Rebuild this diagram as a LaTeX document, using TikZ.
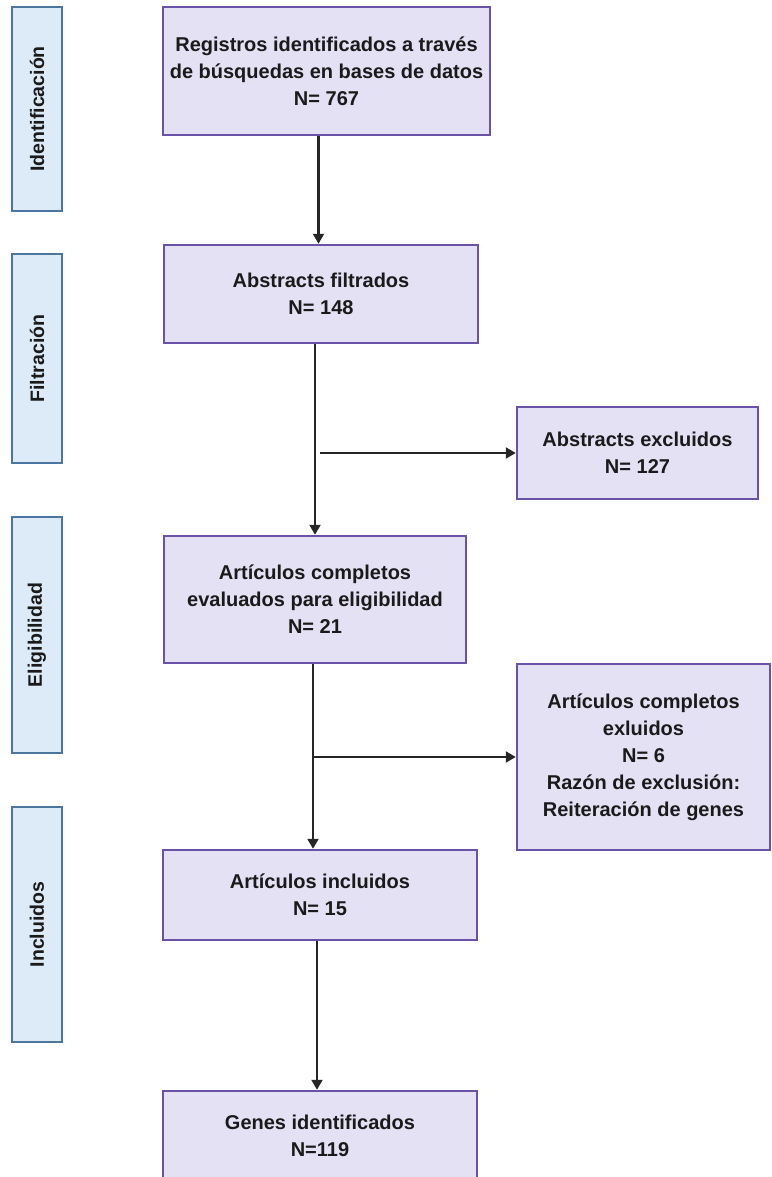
\documentclass[tikz,border=0pt]{standalone}
\usepackage{fontspec}
\setmainfont{Liberation Sans}
\usetikzlibrary{arrows.meta,calc}
\definecolor{boxfill}{HTML}{E4E1F5}
\definecolor{boxdraw}{HTML}{6A52A8}
\definecolor{sidefill}{HTML}{DDEBF8}
\definecolor{sidedraw}{HTML}{4A76A0}
\definecolor{txt}{HTML}{1A1A1A}
\definecolor{arrowcol}{HTML}{262626}
\begin{document}
\begin{tikzpicture}[x=1pt,y=-1pt,
  mainbox/.style={draw=boxdraw,fill=boxfill,line width=2.5pt,inner sep=0pt,align=center,
    text=txt,font=\bfseries\fontsize{20}{27}\selectfont},
  sidebox/.style={draw=sidedraw,fill=sidefill,line width=2.5pt,inner sep=0pt,rotate=90,
    minimum height=50pt,text=txt,font=\bfseries\fontsize{19.5}{22}\selectfont},
  arr/.style={draw=arrowcol,line width=2.2pt,-{Triangle[length=10pt,width=11pt]}}]
\useasboundingbox (0,0) rectangle (771,1177);

% side stage labels
\node[sidebox,minimum width=204pt] (s1) at (37,109) {Identificación};
\node[sidebox,minimum width=209pt] (s2) at (37,358.5) {Filtración};
\node[sidebox,minimum width=236pt] (s3) at (37,635) {Eligibilidad};
\node[sidebox,minimum width=235pt] (s4) at (37,924.5) {Incluidos};

% main boxes
\node[mainbox,minimum width=327pt,minimum height=128pt] (b1) at (326.5,71)
  {Registros identificados a través\\de búsquedas en bases de datos\\N= 767};
\node[mainbox,minimum width=314pt,minimum height=98pt] (b2) at (321,294)
  {Abstracts filtrados\\N= 148};
\node[mainbox,minimum width=241pt,minimum height=92pt] (b3) at (637.5,453)
  {Abstracts excluidos\\N= 127};
\node[mainbox,minimum width=302pt,minimum height=127pt] (b4) at (315,599.5)
  {Artículos completos\\evaluados para eligibilidad\\N= 21};
\node[mainbox,minimum width=253pt,minimum height=186pt] (b5) at (643.5,757)
  {Artículos completos\\exluidos\\N= 6\\Razón de exclusión:\\Reiteración de genes};
\node[mainbox,minimum width=314pt,minimum height=90pt] (b6) at (320,895)
  {Artículos incluidos\\N= 15};
\node[mainbox,minimum width=314pt,minimum height=90pt] (b7) at (320,1136)
  {Genes identificados\\N=119};

% connectors
\draw[arr] ([xshift=-8pt]b1.south) -- ([xshift=-8pt]b1.south |- b2.north);
\draw[arr] (b2.south -| b4.north) -- (b4.north);
\draw[arr] ([xshift=5pt]b3.west -| b4.north) -- (b3.west);
\draw[arr] ([xshift=-2pt]b4.south) -- ([xshift=-2pt]b4.south |- b6.north);
\draw[arr] ([xshift=-2pt]b5.west -| b4.south) -- (b5.west);
\draw[arr] ([xshift=-3pt]b6.south) -- ([xshift=-3pt]b6.south |- b7.north);
\end{tikzpicture}
\end{document}
